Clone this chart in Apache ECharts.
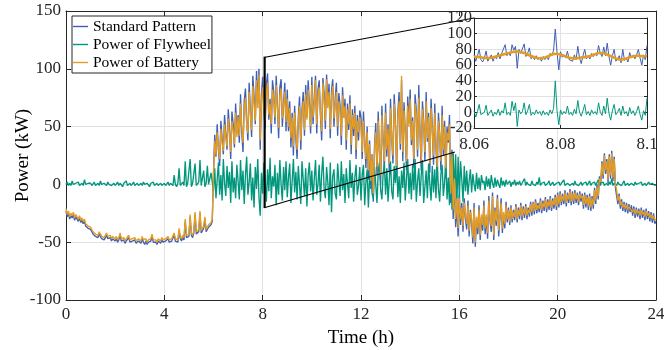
<!DOCTYPE html>
<html>
<head>
<meta charset="utf-8">
<script src="https://cdn.jsdelivr.net/npm/echarts@6/dist/echarts.min.js"></script>
<style>
  html, body { margin: 0; padding: 0; background: #fff; }
  #chart { width: 664px; height: 350px; }
</style>
</head>
<body>
<div id="chart"></div>
<script>
// ---- 24 h profile, one sample every 0.05 h (3 min) ----
const STEP_H = 0.05;

const standardPattern = [
  -23,-28,-25,-30,-27,-29,-26,-31,-28,-30,-32,-29,-33,-31,-34,-32,-36,-35,-38,-37,
  -39,-41,-43,-42,-45,-44,-46,-43,-45,-47,-46,-48,-46,-44,-47,-48,-46,-49,-47,-48,
  -49,-47,-50,-48,-44,-49,-50,-48,-51,-49,-50,-46,-50,-51,-49,-50,-48,-51,-50,-49,
  -50,-51,-47,-50,-52,-49,-52,-50,-51,-49,-45,-50,-51,-50,-52,-49,-50,-51,-48,-50,
  -51,-49,-50,-47,-50,-51,-49,-50,-44,-49,-48,-50,-40,-47,-49,-46,-48,-32,-46,-47,
  -45,-28,-44,-46,-42,-26,-43,-44,-41,-25,-42,-40,-38,-30,-41,-39,-37,-36,-35,-32,
  10,43,24,52,30,16,55,40,26,60,44,30,65,48,22,63,52,32,70,44,
  60,36,78,45,28,72,83,54,38,88,64,41,94,76,52,98,70,100,30,78,
  93,64,48,86,96,56,74,44,90,80,52,94,68,40,84,91,50,70,88,46,
  82,46,72,32,62,25,68,40,22,58,76,30,65,80,42,86,58,90,70,44,
  93,52,76,94,44,82,90,60,38,92,79,48,95,70,87,40,81,91,50,74,
  88,42,79,68,34,84,58,74,30,70,47,77,26,65,42,68,22,60,38,64,
  58,22,63,40,14,50,4,38,-4,26,-15,33,53,8,63,28,0,68,38,13,
  70,24,52,10,74,40,18,78,56,8,63,80,30,90,20,71,45,12,76,53,
  82,34,58,14,78,64,24,86,45,12,72,55,20,80,37,62,10,74,50,17,
  70,32,6,62,44,12,68,25,55,5,50,36,60,-16,30,-30,8,-37,-18,-45,
  -8,-35,-16,-41,-12,-30,-39,-14,-45,-22,-34,-51,-16,-54,-30,-43,-18,-48,-28,-40,
  -14,-43,-28,-47,-10,-32,-41,-7,-48,-20,-36,-9,-45,-30,-12,-42,-26,-38,-15,-33,
  -20,-35,-18,-33,-22,-31,-17,-33,-20,-30,-16,-31,-19,-29,-17,-30,-20,-28,-15,-27,
  -15,-26,-13,-25,-16,-24,-12,-25,-14,-23,-11,-24,-13,-22,-10,-23,-12,-21,-9,-22,
  -7,-20,-6,-18,-8,-17,-5,-19,-7,-16,-4,-18,-6,-17,-5,-16,-7,-18,-6,-15,
  -8,-21,-7,-20,-9,-22,-8,-23,-10,-21,-3,-17,0,-13,7,-1,20,5,27,9,
  22,1,26,5,29,3,24,-3,-3,-17,-8,-21,-13,-23,-15,-24,-16,-25,-17,-24,
  -18,-27,-19,-29,-20,-28,-21,-30,-20,-29,-22,-31,-21,-30,-23,-32,-24,-33,-25,-34,
  -32
];

const flywheelPower = [
  0,2,-1,1,-1,3,0,-1,1,0,2,-1,0,1,-1,4,0,-1,1,0,
  1,-1,0,2,-1,0,1,-1,3,0,-1,1,0,-1,2,0,1,-1,0,1,
  -1,0,2,-1,1,0,-2,1,0,3,-1,0,1,-1,0,2,-1,0,1,-1,
  0,1,-1,2,0,-1,1,0,-2,1,0,2,-1,0,1,-1,0,1,-1,0,
  1,-1,0,2,-1,1,0,-1,8,0,-2,1,14,-1,0,2,-1,20,-2,1,
  0,22,-2,1,0,18,-1,0,2,21,-1,0,12,-2,1,16,0,-1,10,2,
  -6,14,-12,4,19,-9,8,-14,22,1,-10,16,-3,11,-16,20,-7,6,-12,17,
  3,-13,21,-5,12,-17,8,24,-9,2,18,-14,6,-20,15,-4,22,-11,-27,10,
  -8,19,2,-15,13,-6,23,-12,7,-2,17,-18,10,-9,21,0,-14,15,-5,20,
  -11,6,18,-16,3,22,-7,11,-13,16,-1,-17,20,4,-10,14,-19,8,19,-6,
  12,-14,5,21,-9,0,17,-15,9,24,-4,-12,15,2,-18,19,-24,7,13,-8,
  -13,18,3,-10,20,-5,9,-16,14,1,-12,21,-3,10,-15,6,17,-9,-1,15,
  -14,8,17,-18,2,13,-20,6,16,-8,-12,15,0,-16,11,19,-5,-13,9,18,
  -9,14,-15,4,20,-6,-13,16,1,21,-11,7,-16,12,-3,19,-14,5,22,-8,
  10,-13,17,-5,22,-15,3,14,-10,8,21,-16,-2,12,-12,18,0,-14,16,-7,
  13,-12,20,-4,-15,9,17,-10,2,22,-13,6,-18,25,-22,28,-8,26,-18,24,
  -12,20,4,-15,16,-6,12,-9,3,13,-7,9,0,-6,10,-4,6,-5,8,1,
  3,-5,7,-2,5,-4,8,1,-3,6,-2,4,0,-3,6,-1,3,-2,4,0,
  -1,3,-2,2,0,4,-1,2,0,3,-1,1,0,5,-1,2,0,1,-1,3,
  0,1,-1,2,0,6,-1,1,0,2,-1,0,1,3,-1,0,2,-1,0,1,
  0,2,-1,1,0,4,-1,0,1,2,-1,0,1,-1,3,0,1,-1,0,2,
  -1,1,0,2,-1,0,3,-1,1,0,2,-1,0,4,-1,1,0,2,-1,0,
  1,-1,2,0,5,-1,1,0,-1,2,0,1,-1,0,3,-1,0,1,-1,0,
  1,0,-1,2,0,-1,1,0,2,-1,0,1,-1,0,2,0,-1,1,0,-1,
  0
];

const batteryPower = [
  -21,-26,-23,-28,-25,-27,-24,-29,-26,-28,-30,-27,-31,-29,-32,-30,-34,-33,-36,-35,
  -37,-39,-41,-40,-43,-42,-44,-41,-43,-45,-44,-46,-44,-42,-45,-46,-44,-47,-45,-46,
  -47,-45,-48,-46,-42,-47,-48,-46,-49,-47,-48,-44,-48,-49,-47,-48,-46,-49,-48,-47,
  -48,-49,-45,-48,-49,-47,-50,-48,-49,-47,-43,-48,-49,-48,-50,-47,-48,-49,-46,-48,
  -49,-47,-48,-45,-48,-49,-47,-48,-42,-47,-46,-48,-38,-45,-47,-44,-46,-30,-44,-45,
  -43,-26,-42,-44,-40,-24,-41,-42,-39,-23,-40,-38,-36,-28,-39,-37,-35,-34,-33,-30,
  8,38,26,45,31,22,48,36,29,52,40,33,57,44,28,55,47,35,62,41,
  58,42,70,49,36,66,75,52,44,80,61,47,85,70,55,90,66,95,38,72,
  84,63,55,78,88,60,70,52,82,74,58,86,65,49,77,83,57,68,80,54,
  74,50,66,40,58,33,62,45,30,55,68,38,60,72,47,78,56,82,64,50,
  86,58,70,90,52,76,84,62,46,88,73,55,91,66,80,48,75,85,57,69,
  80,50,72,63,42,77,58,68,38,65,52,70,34,60,48,62,30,55,45,58,
  50,28,55,38,22,45,12,35,3,25,-8,30,45,15,55,28,8,60,35,20,
  62,30,48,18,66,40,25,70,52,16,58,72,35,94,28,64,45,20,68,50,
  74,38,55,22,70,60,30,75,45,20,65,52,28,72,40,58,18,66,48,25,
  62,35,15,55,42,20,60,30,50,14,45,38,52,-8,25,-22,5,-30,-12,-38,
  -12,-30,-20,-36,-16,-26,-34,-18,-40,-24,-30,-46,-20,-50,-28,-38,-22,-44,-26,-35,
  -18,-38,-26,-42,-14,-30,-36,-10,-44,-22,-32,-12,-40,-28,-16,-38,-24,-34,-18,-30,
  -22,-32,-20,-30,-24,-28,-19,-30,-22,-27,-18,-28,-21,-26,-19,-27,-22,-25,-17,-24,
  -16,-23,-15,-22,-18,-21,-14,-22,-16,-20,-13,-21,-15,-19,-12,-20,-14,-18,-11,-19,
  -9,-17,-8,-15,-10,-14,-7,-16,-9,-13,-6,-15,-8,-14,-7,-13,-9,-15,-8,-12,
  -10,-18,-9,-17,-11,-19,-10,-20,-12,-18,-5,-14,-2,-10,5,2,18,8,25,12,
  20,4,24,8,27,6,22,0,-5,-14,-10,-18,-15,-20,-17,-21,-18,-22,-19,-21,
  -20,-24,-21,-26,-22,-25,-23,-27,-22,-26,-24,-28,-23,-27,-25,-29,-26,-30,-27,-31,
  -30
];

// ---- detail window 8.06 h – 8.10 h ----
const zoomStart = 8.06;
const zoomEnd = 8.1;
const zoomFastStep = 0.0004;   // pattern and flywheel samples
const zoomSlowStep = 0.001;    // battery samples

const zoomPattern = [
  73,65,72,80,67,64,69,78,65,67,
  73,65,71,68,76,68,75,73,86,72,
  76,72,86,79,84,56,80,75,77,87,
  71,75,82,68,71,67,72,67,70,65,
  71,67,71,67,75,72,79,106,76,54,
  77,70,73,69,78,67,69,65,73,67,
  84,69,62,72,80,68,72,68,75,71,
  75,72,85,75,71,83,72,88,71,60,
  72,80,65,68,72,63,80,66,69,64,
  76,69,73,68,73,80,69,60,73,67,
  85
];

const zoomFlywheel = [
  2,-6,1,10,-3,-5,0,9,-4,-2,
  3,-5,0,-3,4,-4,2,-1,12,-3,
  0,-4,14,2,12,-18,3,-2,1,12,
  -3,2,10,-4,0,-3,3,-2,1,-4,
  2,-3,0,-4,3,-2,5,40,2,-16,
  3,-3,1,-2,8,-3,0,-4,4,-2,
  15,0,-5,2,10,-3,1,-4,3,-2,
  1,-3,12,0,-4,8,-2,18,-1,-10,
  2,10,-3,0,5,-4,8,-2,1,-5,
  6,-2,2,-4,1,8,-3,-10,2,-4,
  18
];

const zoomBattery = [
  71,70.5,69.5,69,69.5,71,72.5,74,75.5,76.8,
  77.3,76.5,74.5,72,70,68.8,69,71,73.5,74.5,
  73.5,71.5,69.5,68.5,69,70,70.5,72,74,75.5,
  75,73,70.5,68,67,68,70,71.5,72,71.5,
  71
];

// marked region on the main axes and where its lower connector ends
const zoomBox = { tMin: 8.06, tMax: 8.1, pMin: -20, pMax: 110 };
const lowerConnectorEnd = [15.82, 28];

const seriesNames = ['Standard Pattern', 'Power of Flywheel', 'Power of Battery'];
const COLORS = ['#3f5fb4', '#00977d', '#e49c22'];
const SERIF = "'Liberation Serif', 'Times New Roman', 'DejaVu Serif', serif";
const AXIS_COLOR = '#262626';
const GRID_COLOR = '#e2e2e2';

const MAIN = { left: 66, top: 11, width: 590, height: 289 };
const INSET = { left: 474, top: 18, width: 173, height: 110 };

function timed(values, t0, step) {
  return values.map((v, i) => [+(t0 + i * step).toFixed(5), v]);
}

function axisPair(dim, gridIndex, range, opts) {
  const common = {
    gridIndex, type: 'value', min: range[0], max: range[1], interval: range[2],
    z: opts.z,
    axisLine: { show: true, onZero: false, lineStyle: { color: AXIS_COLOR, width: 1 } },
    axisTick: { show: true, inside: true, length: opts.tick, lineStyle: { color: AXIS_COLOR, width: 1 } }
  };
  const first = Object.assign({}, common, {
    position: dim === 'x' ? 'bottom' : 'left',
    axisLabel: {
      show: true, color: AXIS_COLOR, fontFamily: SERIF, fontSize: opts.font,
      margin: opts.margin, formatter: opts.formatter,
      showMinLabel: true, showMaxLabel: true, hideOverlap: false
    },
    splitLine: { show: true, lineStyle: { color: GRID_COLOR, width: 1 } }
  });
  if (opts.name) {
    Object.assign(first, {
      name: opts.name, nameLocation: 'middle', nameGap: opts.nameGap,
      nameMoveOverlap: false,
      nameTextStyle: { color: '#000', fontFamily: SERIF, fontSize: 19 }
    });
  }
  const second = Object.assign({}, common, {
    position: dim === 'x' ? 'top' : 'right',
    axisLabel: { show: false },
    splitLine: { show: false }
  });
  return [first, second];
}

const timeRange = [0, 24, 4];
const powerRange = [-100, 150, 50];
const zoomTimeRange = [zoomStart, zoomEnd, 0.02];
const zoomPowerRange = [-20, 120, 20];

// the detail power labels sit close together, so they are spread over two
// label-only axes (alternate ticks each) to keep every one of them visible
const alternate = keepEven => v => {
  const k = Math.round((v - zoomPowerRange[0]) / zoomPowerRange[2]);
  return (k % 2 === 0) === keepEven ? String(Math.round(v)) : '';
};

const xAxes = [
  ...axisPair('x', 0, timeRange, { z: 0, tick: 5, margin: 6, font: 17,
    name: 'Time (h)', nameGap: 29 }),
  ...axisPair('x', 1, zoomTimeRange, { z: 11, tick: 3, margin: 8, font: 17,
    formatter: v => String(+v.toFixed(2)) })
];
const yAxes = [
  ...axisPair('y', 0, powerRange, { z: 0, tick: 5, margin: 5, font: 17,
    name: 'Power (kW)', nameGap: 33 }),
  ...axisPair('y', 1, zoomPowerRange, { z: 11, tick: 3, margin: 2, font: 16.5,
    formatter: alternate(true) }),
  {
    gridIndex: 1, type: 'value', position: 'left', z: 11,
    min: zoomPowerRange[0], max: zoomPowerRange[1], interval: zoomPowerRange[2],
    axisLine: { show: false, onZero: false }, axisTick: { show: false }, splitLine: { show: false },
    axisLabel: { show: true, color: AXIS_COLOR, fontFamily: SERIF, fontSize: 16.5, margin: 2,
      showMinLabel: true, showMaxLabel: true, hideOverlap: false, formatter: alternate(false) }
  }
];

const mainData = [standardPattern, flywheelPower, batteryPower];
const zoomData = [
  timed(zoomPattern, zoomStart, zoomFastStep),
  timed(zoomFlywheel, zoomStart, zoomFastStep),
  timed(zoomBattery, zoomStart, zoomSlowStep)
];

const series = [];
mainData.forEach((vals, k) => {
  series.push({
    name: seriesNames[k], type: 'line', xAxisIndex: 0, yAxisIndex: 0,
    data: timed(vals, 0, STEP_H), symbol: 'none', showSymbol: false,
    color: COLORS[k], itemStyle: { color: COLORS[k] },
    lineStyle: { color: COLORS[k], width: 1.35 }, z: 2 + k * 0.1,
    emphasis: { disabled: true }
  });
});
zoomData.forEach((data, k) => {
  series.push({
    name: seriesNames[k], type: 'line', xAxisIndex: 2, yAxisIndex: 2,
    data, symbol: 'none', showSymbol: false, smooth: k === 2 ? 0.4 : false,
    color: COLORS[k], itemStyle: { color: COLORS[k] },
    lineStyle: { color: COLORS[k], width: k === 2 ? 2.6 : 1 }, z: 12 + k * 0.1,
    emphasis: { disabled: true }
  });
});

const chart = echarts.init(document.getElementById('chart'), null, { renderer: 'canvas' });

chart.setOption({
  animation: false,
  backgroundColor: '#fff',
  grid: [
    Object.assign({ containLabel: false, outerBoundsMode: 'none' }, MAIN),
    Object.assign({ containLabel: false, outerBoundsMode: 'none' }, INSET)
  ],
  xAxis: xAxes,
  yAxis: yAxes,
  legend: {
    data: seriesNames, selectedMode: false, orient: 'vertical',
    left: 72, top: 16, icon: 'rect', itemWidth: 15, itemHeight: 1.4, itemGap: 1,
    padding: [2, 1, 2, 1], backgroundColor: '#fff', borderColor: AXIS_COLOR, borderWidth: 1,
    textStyle: { fontFamily: SERIF, fontSize: 15.5, color: '#000', lineHeight: 17 }
  },
  series
});

// white backing for the detail axes plus the zoom box and its connectors
const px = p => chart.convertToPixel({ gridIndex: 0 }, p);
const boxPts = [
  px([zoomBox.tMin, zoomBox.pMin]), px([zoomBox.tMax, zoomBox.pMin]),
  px([zoomBox.tMax, zoomBox.pMax]), px([zoomBox.tMin, zoomBox.pMax])
];
const lineStyle = { stroke: '#000', lineWidth: 1.2, fill: null };
chart.setOption({
  graphic: [
    { id: 'insetBg', type: 'rect', z: 10, silent: true,
      shape: { x: INSET.left, y: INSET.top, width: INSET.width, height: INSET.height },
      style: { fill: '#fff' } },
    { id: 'box', type: 'polygon', z: 9, silent: true,
      shape: { points: boxPts }, style: lineStyle },
    { id: 'upper', type: 'line', z: 9, silent: true,
      shape: { x1: boxPts[2][0], y1: boxPts[2][1], x2: INSET.left, y2: INSET.top },
      style: lineStyle },
    { id: 'lower', type: 'line', z: 9, silent: true,
      shape: { x1: boxPts[1][0], y1: boxPts[1][1],
               x2: px(lowerConnectorEnd)[0], y2: px(lowerConnectorEnd)[1] },
      style: lineStyle }
  ]
});
</script>
</body>
</html>
